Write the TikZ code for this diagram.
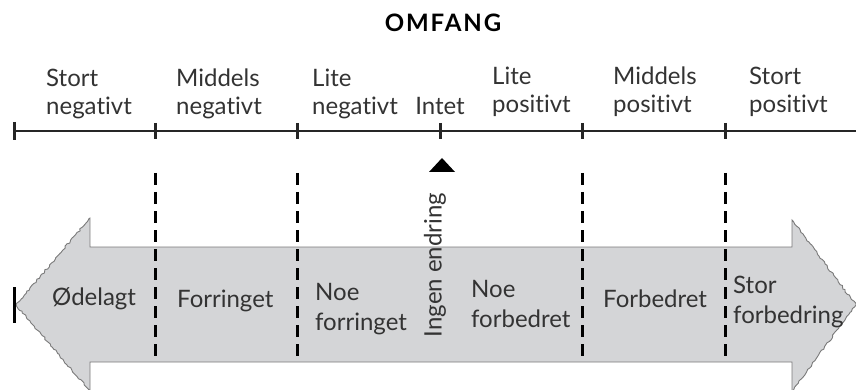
\documentclass[tikz,border=0pt]{standalone}
\usepackage{fontspec}
\setmainfont{Lato}[Ligatures={NoCommon}]
\usetikzlibrary{decorations.pathmorphing}
\definecolor{txt}{HTML}{333333}
\definecolor{arrowfill}{HTML}{D4D5D7}
\definecolor{arrowline}{HTML}{7A7A7A}
\definecolor{axis}{HTML}{262626}
\begin{document}
\begin{tikzpicture}[x=1pt,y=-1pt,
  lbl/.style={inner sep=0pt, anchor=base west, align=left, text=txt,
    font=\fontsize{24}{28}\selectfont},
  albl/.style={inner sep=0pt, anchor=base west, align=left, text=txt,
    font=\fontsize{24}{30}\selectfont},
  ttl/.style={inner sep=0pt, anchor=base, text=black,
    font=\fontsize{24}{27}\selectfont\bfseries\addfontfeature{LetterSpace=8}},
  axisline/.style={draw=axis, line width=2.6pt},
  tickmark/.style={draw=axis, line width=3pt},
  divider/.style={draw=black, line width=3pt, dash pattern=on 12pt off 7pt},
  rough/.style={decoration={random steps, segment length=2.5pt, amplitude=0.9pt}}
]
\useasboundingbox (0,0) rectangle (856,390);
\pgfmathsetseed{7}

% title
\node[ttl] (title) at (443,32) {OMFANG};

% axis
\coordinate (axL) at (14,131);
\coordinate (axR) at (856,131);
\draw[axisline] (axL) -- (axR);
\draw[tickmark] (14,122) -- (14,140);
\foreach \x/\n in {155/t1,297/t2,440/t3,582/t4,725/t5}{
  \coordinate (\n top) at (\x,123);
  \coordinate (\n bot) at (\x,139);
  \draw[tickmark] (\n top) -- (\n bot);
}

% axis labels (base = last line)
\node[lbl] (l1) at (46,115) {Stort\\negativt};
\node[lbl] (l2) at (176,115) {Middels\\negativt};
\node[lbl] (l3) at (312,115) {Lite\\negativt};
\node[lbl, anchor=base] (l4) at (440,115) {Intet};
\node[lbl] (l5) at (492,113) {Lite\\positivt};
\node[lbl] (l6) at (613,113) {Middels\\positivt};
\node[lbl] (l7) at (749,113) {Stort\\positivt};

% big double arrow
\path[fill=arrowfill, draw=arrowline, line width=0.9pt, rough]
  (90,247) -- (792,247) -- (792,220)
  decorate {-- (856,305) -- (792,391)}
  -- (792,362) -- (90,362) -- (90,391)
  decorate {-- (16,305) -- (90,218)}
  -- cycle;

% left bar
\coordinate (barT) at (14,287);
\coordinate (barB) at (14,323);
\draw[draw=black, line width=3pt] (barT) -- (barB);

% dashed dividers
\foreach \x/\n in {155/d1,297/d2,582/d3,725/d4}{
  \coordinate (\n top) at (\x,173);
  \coordinate (\n bot) at (\x,362);
  \draw[divider] (\n top) -- (\n bot);
}

% no-change marker
\fill[black] (429,172) -- (455,172) -- (442,158) -- cycle;
\node[inner sep=0pt, text=txt, rotate=90, font=\fontsize{24}{28}\selectfont] (ingen) at (435,265) {Ingen endring};

% arrow labels (base = last line)
\node[albl] (a1) at (52,305) {Ødelagt};
\node[albl] (a2) at (177,307) {Forringet};
\node[albl] (a3) at (315,330) {Noe\\forringet};
\node[albl] (a4) at (471,327) {Noe\\forbedret};
\node[albl] (a5) at (603,307) {Forbedret};
\node[albl] (a6) at (733,323) {Stor\\forbedring};
\end{tikzpicture}
\end{document}
